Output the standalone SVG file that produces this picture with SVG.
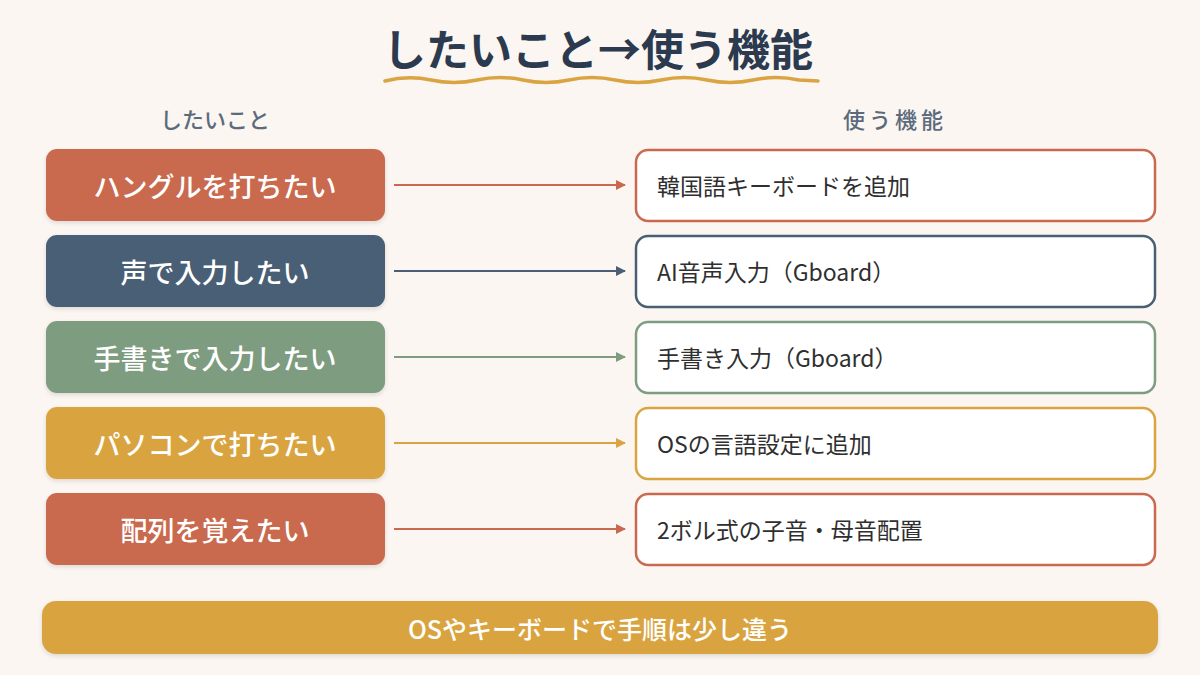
<svg xmlns="http://www.w3.org/2000/svg" width="1200" height="675" viewBox="0 0 1200 675">
<defs>
<style>
.lbl{font-family:"Noto Sans CJK JP","Noto Sans",sans-serif;}
.ltxt{font-size:27px;font-weight:500;fill:#ffffff;text-anchor:middle;dominant-baseline:central;}
.rtxt{font-size:23px;font-weight:400;fill:#2f2f2f;dominant-baseline:central;}
.hdr{font-size:22px;font-weight:500;fill:#5b6b7c;text-anchor:middle;}
.rbox{fill:#ffffff;stroke-width:2.5;}
.conn{stroke-width:2;fill:none;}
</style>
<filter id="sh" x="-5%" y="-10%" width="110%" height="130%">
<feDropShadow dx="0" dy="2" stdDeviation="2" flood-color="#000" flood-opacity="0.12"/>
</filter>
<marker id="aR" markerWidth="10" markerHeight="10" refX="9" refY="5" orient="auto" markerUnits="userSpaceOnUse"><path d="M0,0 L10,5 L0,10 z" fill="#C96A50"/></marker>
<marker id="aN" markerWidth="10" markerHeight="10" refX="9" refY="5" orient="auto" markerUnits="userSpaceOnUse"><path d="M0,0 L10,5 L0,10 z" fill="#4A5F75"/></marker>
<marker id="aG" markerWidth="10" markerHeight="10" refX="9" refY="5" orient="auto" markerUnits="userSpaceOnUse"><path d="M0,0 L10,5 L0,10 z" fill="#7E9C80"/></marker>
<marker id="aY" markerWidth="10" markerHeight="10" refX="9" refY="5" orient="auto" markerUnits="userSpaceOnUse"><path d="M0,0 L10,5 L0,10 z" fill="#D9A441"/></marker>
</defs>
<rect width="1200" height="675" fill="#FBF6F1"/>

<g id="title">
<text x="598" y="66" class="lbl" font-size="43" font-weight="600" fill="#2B3A4E" text-anchor="middle">したいこと→使う機能</text>
<path d="M385,81 Q408,75 431,80 T477,80 T523,80 T569,80 T615,80 T661,80 T707,80 T753,80 T799,80 L818,81" fill="none" stroke="#D9A441" stroke-width="3.5" stroke-linecap="round"/>
</g>

<g id="headers">
<text x="215" y="128" class="lbl hdr">したいこと</text>
<text x="895" y="128" class="lbl hdr" letter-spacing="4">使う機能</text>
</g>

<g id="connectors">
<line x1="394" y1="185" x2="625" y2="185" class="conn" stroke="#C96A50" marker-end="url(#aR)"/>
<line x1="394" y1="271" x2="625" y2="271" class="conn" stroke="#4A5F75" marker-end="url(#aN)"/>
<line x1="394" y1="357" x2="625" y2="357" class="conn" stroke="#7E9C80" marker-end="url(#aG)"/>
<line x1="394" y1="443" x2="625" y2="443" class="conn" stroke="#D9A441" marker-end="url(#aY)"/>
<line x1="394" y1="529" x2="625" y2="529" class="conn" stroke="#C96A50" marker-end="url(#aR)"/>
</g>

<g id="want1"><rect x="46" y="149" width="339" height="72" rx="11" fill="#C96A50" filter="url(#sh)"/><text x="215" y="185" class="lbl ltxt">ハングルを打ちたい</text></g>
<g id="want2"><rect x="46" y="235" width="339" height="72" rx="11" fill="#4A5F75" filter="url(#sh)"/><text x="215" y="271" class="lbl ltxt">声で入力したい</text></g>
<g id="want3"><rect x="46" y="321" width="339" height="72" rx="11" fill="#7E9C80" filter="url(#sh)"/><text x="215" y="357" class="lbl ltxt">手書きで入力したい</text></g>
<g id="want4"><rect x="46" y="407" width="339" height="72" rx="11" fill="#D9A441" filter="url(#sh)"/><text x="215" y="443" class="lbl ltxt">パソコンで打ちたい</text></g>
<g id="want5"><rect x="46" y="493" width="339" height="72" rx="11" fill="#C96A50" filter="url(#sh)"/><text x="215" y="529" class="lbl ltxt">配列を覚えたい</text></g>

<g id="use1"><rect x="636" y="150" width="519" height="71" rx="12" class="rbox" stroke="#C96A50"/><text x="657" y="185" class="lbl rtxt">韓国語キーボードを追加</text></g>
<g id="use2"><rect x="636" y="236" width="519" height="71" rx="12" class="rbox" stroke="#4A5F75"/><text x="657" y="271" class="lbl rtxt">AI音声入力（Gboard）</text></g>
<g id="use3"><rect x="636" y="322" width="519" height="71" rx="12" class="rbox" stroke="#7E9C80"/><text x="657" y="357" class="lbl rtxt">手書き入力（Gboard）</text></g>
<g id="use4"><rect x="636" y="408" width="519" height="71" rx="12" class="rbox" stroke="#D9A441"/><text x="657" y="443" class="lbl rtxt">OSの言語設定に追加</text></g>
<g id="use5"><rect x="636" y="494" width="519" height="71" rx="12" class="rbox" stroke="#C96A50"/><text x="657" y="529" class="lbl rtxt">2ボル式の子音・母音配置</text></g>

<g id="note"><rect x="42" y="601" width="1116" height="53" rx="14" fill="#D9A441" filter="url(#sh)"/><text x="600" y="628" class="lbl" font-size="25" font-weight="500" fill="#ffffff" text-anchor="middle" dominant-baseline="central">OSやキーボードで手順は少し違う</text></g>
</svg>
